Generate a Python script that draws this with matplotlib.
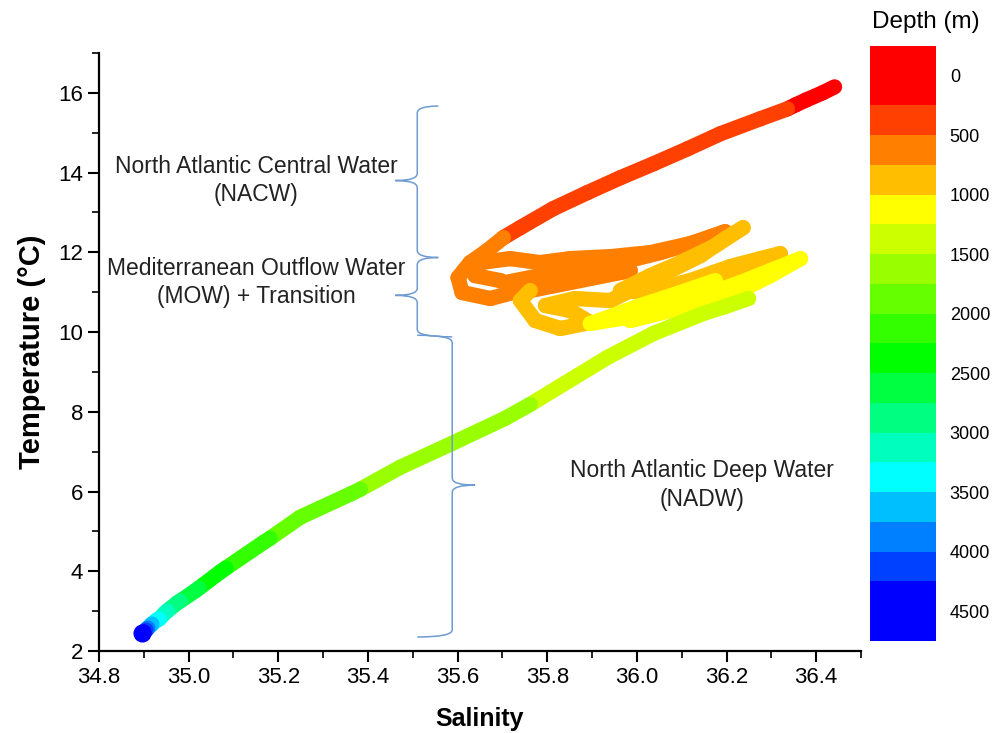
import numpy as np
import matplotlib
matplotlib.use("Agg")
import matplotlib.pyplot as plt
import matplotlib as mpl
from matplotlib.collections import LineCollection
from matplotlib.colors import ListedColormap, BoundaryNorm
from matplotlib.path import Path
from matplotlib.patches import PathPatch
from matplotlib.ticker import AutoMinorLocator, FormatStrFormatter

plt.rcParams['font.family'] = ['Liberation Sans', 'DejaVu Sans']

# CTD profile (down-cast order)
depth = [0, 50, 120, 200, 250, 280, 310, 340, 370, 400, 430, 455, 475, 495,
         # NACW -> MOW, orange band
         505, 515, 525, 535, 545, 555, 565, 575, 585, 595, 605, 615, 625,
         635, 645, 655, 665, 675, 685, 695, 705, 715, 725, 735, 740, 748,
         # 750-1000 m
         760, 770, 780, 790, 800, 810, 820, 830, 840, 850, 860, 870, 880,
         890, 900, 910, 920, 930, 940, 950, 960, 970, 980, 990,
         # 1000-1250 m
         1010, 1020, 1030, 1040, 1050, 1060, 1070, 1080, 1090, 1100, 1110,
         1120, 1130, 1140, 1150, 1160, 1170, 1180,
         # NADW
         1260, 1300, 1350, 1400, 1450, 1490, 1510, 1560, 1620, 1740, 1760, 1850,
         1990, 2010, 2240, 2260, 2490, 2510, 2740, 2760, 2990, 3010, 3240, 3260,
         3490, 3510, 3740, 3760, 3990, 4010, 4240, 4500]
salinity = [36.441, 36.414, 36.378, 36.354, 36.336, 36.275, 36.186, 36.113, 36.037,
            35.963, 35.889, 35.813, 35.740, 35.702,
            35.666, 35.628, 35.601, 35.610, 35.673, 35.740, 35.695, 35.639, 35.650,
            35.717, 35.784, 35.851, 35.941, 36.030, 36.119, 36.197, 36.142, 36.052,
            35.963, 35.874, 35.784, 35.706, 35.762, 35.874, 35.985, 35.762,
            35.740, 35.773, 35.829, 35.896, 35.851, 35.796, 35.862, 35.941, 36.008,
            36.075, 36.142, 36.197, 36.237, 36.175, 36.097, 36.030, 35.963, 36.030,
            36.119, 36.208, 36.275, 36.320, 36.253, 36.175,
            36.097, 36.008, 35.929, 35.896, 35.963, 36.052, 36.142, 36.231, 36.298,
            36.365, 36.298, 36.231, 36.142, 36.052, 35.985, 36.075, 36.164, 36.242,
            36.249, 36.197, 36.148, 36.037, 35.934, 35.762, 35.706, 35.588, 35.472,
            35.383, 35.360, 35.249, 35.182, 35.168, 35.083, 35.070, 35.023, 35.014,
            34.981, 34.974, 34.952, 34.947, 34.934, 34.929, 34.918, 34.916, 34.909,
            34.907, 34.905, 34.903, 34.900, 34.896]
temperature = [16.150, 16.000, 15.824, 15.699, 15.599, 15.349, 14.973, 14.597, 14.221,
               13.871, 13.495, 13.094, 12.620, 12.368,
               12.043, 11.742, 11.366, 10.991, 10.841, 11.041, 11.291, 11.416, 11.742,
               11.842, 11.742, 11.842, 11.892, 11.992, 12.218, 12.518, 12.293, 11.992,
               11.742, 11.542, 11.416, 11.241, 11.191, 11.341, 11.542, 11.041,
               10.790, 10.290, 10.089, 10.239, 10.540, 10.665, 10.841, 10.790, 11.166,
               11.542, 11.917, 12.343, 12.619, 12.168, 11.742, 11.416, 11.041, 11.041,
               11.291, 11.642, 11.842, 11.968, 11.592, 11.291,
               10.991, 10.665, 10.340, 10.214, 10.340, 10.590, 10.891, 11.241, 11.542,
               11.842, 11.416, 11.041, 10.790, 10.490, 10.290, 10.540, 10.790, 10.991,
               10.841, 10.640, 10.465, 9.964, 9.363, 8.186, 7.835, 7.209, 6.608,
               6.057, 5.932, 5.356, 4.830, 4.730, 4.079, 3.978, 3.578, 3.503,
               3.252, 3.202, 3.002, 2.952, 2.801, 2.776, 2.676, 2.651, 2.576,
               2.551, 2.526, 2.501, 2.476, 2.451]

# colour scale of the depth legend
depth_bounds = [-250, 250, 500, 750, 1000, 1250, 1500, 1750, 2000, 2250, 2500,
                2750, 3000, 3250, 3500, 3750, 4000, 4250, 4750]
band_colors = ['#FF0000', '#FF4000', '#FF8000', '#FFBF00', '#FFFF00', '#CCFF00',
               '#99FF00', '#66FF00', '#33FF00', '#00FF00', '#00FF40', '#00FF80',
               '#00FFBF', '#00FFFF', '#00BFFF', '#0080FF', '#0040FF', '#0000FF']
cbar_ticks = [0, 500, 1000, 1500, 2000, 2500, 3000, 3500, 4000, 4500]
sal_ticks = [34.8, 35.0, 35.2, 35.4, 35.6, 35.8, 36.0, 36.2, 36.4]
temp_ticks = [2, 4, 6, 8, 10, 12, 14, 16]

cmap = ListedColormap(band_colors)
norm = BoundaryNorm(depth_bounds, cmap.N)

fig = plt.figure(figsize=(9.93, 7.33), dpi=100)
ax = fig.add_axes([0.0997, 0.1119, 0.7674, 0.8158])

pts = np.column_stack([salinity, temperature])
segs = np.stack([pts[:-1], pts[1:]], axis=1)
d = np.asarray(depth, dtype=float)
lc = LineCollection(segs, cmap=cmap, norm=norm, linewidths=11,
                    capstyle='round', joinstyle='round', zorder=2)
lc.set_array((d[:-1] + d[1:]) / 2)
ax.add_collection(lc)
ax.scatter(salinity[-1:], temperature[-1:], c=depth[-1:], cmap=cmap, norm=norm,
           s=170, zorder=3, linewidths=0)

ax.set_xlim(34.8, 36.5)
ax.set_ylim(2, 17)
ax.set_xticks(sal_ticks)
ax.set_yticks(temp_ticks)
ax.xaxis.set_major_formatter(FormatStrFormatter('%.1f'))
ax.xaxis.set_minor_locator(AutoMinorLocator(2))
ax.yaxis.set_minor_locator(AutoMinorLocator(2))
ax.tick_params(which='major', length=8, width=1.5, labelsize=16, direction='out')
ax.tick_params(which='minor', length=5, width=1.2, direction='out')
for s in ['top', 'right']:
    ax.spines[s].set_visible(False)
for s in ['left', 'bottom']:
    ax.spines[s].set_linewidth(1.6)
ax.set_xlabel('Salinity', fontsize=18, fontweight='bold', labelpad=14)
ax.set_ylabel('Temperature (\u00b0C)', fontsize=21, fontweight='bold', labelpad=9)

# curly braces marking the water masses
brace_color = '#6F9BD1'


def brace(x, y_top, y_bot, y_mid, tip, arm_top, arm_bot, r=0.18):
    # arms go out to arm_top / arm_bot, cusp goes to tip
    verts = [(arm_top, y_top), (x, y_top), (x, y_top - r),
             (x, y_mid + r), (x, y_mid), (tip, y_mid),
             (x, y_mid), (x, y_mid - r),
             (x, y_bot + r), (x, y_bot), (arm_bot, y_bot)]
    codes = [Path.MOVETO, Path.CURVE3, Path.CURVE3,
             Path.LINETO, Path.CURVE3, Path.CURVE3,
             Path.CURVE3, Path.CURVE3,
             Path.LINETO, Path.CURVE3, Path.CURVE3]
    ax.add_patch(PathPatch(Path(verts, codes), fill=False, ec=brace_color,
                           lw=1.1, zorder=4))


brace(35.51, 15.67, 11.87, 13.80, 35.461, 35.557, 35.557)
brace(35.51, 11.87, 9.88, 10.92, 35.461, 35.557, 35.588)
brace(35.588, 9.92, 2.35, 6.16, 35.639, 35.51, 35.51)

txt = dict(ha='center', va='center', fontsize=16.5, linespacing=1.3, color='#222222')
ax.text(35.150, 13.80, 'North Atlantic Central Water\n(NACW)', **txt)
ax.text(35.150, 11.24, 'Mediterranean Outflow Water\n(MOW) + Transition', **txt)
ax.text(36.145, 6.16, 'North Atlantic Deep Water\n(NADW)', **txt)

cax = fig.add_axes([0.876, 0.1255, 0.0665, 0.812])
cb = mpl.colorbar.ColorbarBase(cax, cmap=cmap, norm=norm, boundaries=depth_bounds,
                               ticks=cbar_ticks, spacing='proportional')
cax.invert_yaxis()
cb.outline.set_visible(False)
cb.minorticks_off()
cax.tick_params(which='both', length=0, pad=10, labelsize=13)
fig.text(0.9325, 0.970, 'Depth (m)', ha='center', va='center', fontsize=17.5)

fig.savefig('out.png', dpi=100)
